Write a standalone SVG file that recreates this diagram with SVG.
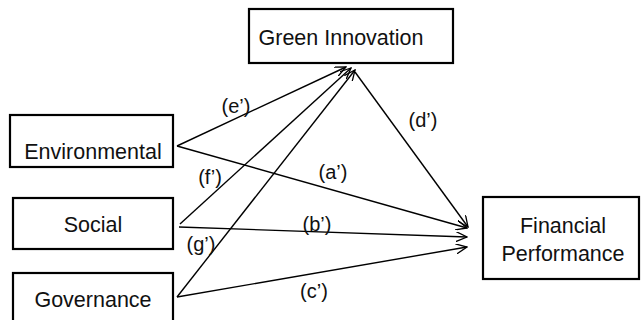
<svg xmlns="http://www.w3.org/2000/svg" width="641" height="320" viewBox="0 0 641 320">
<style>
.box{fill:#fff;stroke:#000;stroke-width:2.2}
.t{font-family:"Liberation Sans",Arial,sans-serif;font-size:21.5px;fill:#111;text-anchor:middle}
.l{font-family:"Liberation Sans",Arial,sans-serif;font-size:20px;fill:#111;text-anchor:middle}
.c{stroke:#000;stroke-width:1.4;fill:none;marker-end:url(#ah)}
</style>
<defs>
<marker id="ah" viewBox="0 0 12 10" refX="11" refY="5" markerWidth="12" markerHeight="10" markerUnits="userSpaceOnUse" orient="auto">
<path d="M0,0 L11,5 L0,10" fill="none" stroke="#000" stroke-width="1.3"/>
</marker>
</defs>
<rect width="641" height="320" fill="#fff"/>
<g id="connectors">
<line class="c" x1="177" y1="146" x2="346" y2="67"/>
<line class="c" x1="180" y1="224" x2="351" y2="68"/>
<line class="c" x1="177" y1="297" x2="355" y2="70"/>
<line class="c" x1="355" y1="72" x2="468" y2="227"/>
<line class="c" x1="177" y1="146" x2="467" y2="228"/>
<line class="c" x1="179" y1="227" x2="467" y2="237"/>
<line class="c" x1="177" y1="297" x2="467" y2="247"/>
<text class="l" x="236" y="113">(e’)</text>
<text class="l" x="210" y="184">(f’)</text>
<text class="l" x="333" y="179">(a’)</text>
<text class="l" x="317" y="231">(b’)</text>
<text class="l" x="201" y="251">(g’)</text>
<text class="l" x="314" y="298">(c’)</text>
<text class="l" x="423" y="127">(d’)</text>
</g>
<g id="green-innovation">
<rect class="box" x="249" y="9" width="204" height="54"/>
<text class="t" x="341" y="45">Green Innovation</text>
</g>
<g id="environmental">
<rect class="box" x="10" y="115" width="163" height="52"/>
<text class="t" x="93" y="159">Environmental</text>
</g>
<g id="social">
<rect class="box" x="13" y="198" width="160" height="51"/>
<text class="t" x="93" y="232">Social</text>
</g>
<g id="governance">
<rect class="box" x="13" y="273" width="160" height="60"/>
<text class="t" x="93" y="307">Governance</text>
</g>
<g id="financial-performance">
<rect class="box" x="483" y="197" width="156" height="82"/>
<text class="t" x="563" y="233">Financial</text>
<text class="t" x="563" y="261">Performance</text>
</g>
</svg>
